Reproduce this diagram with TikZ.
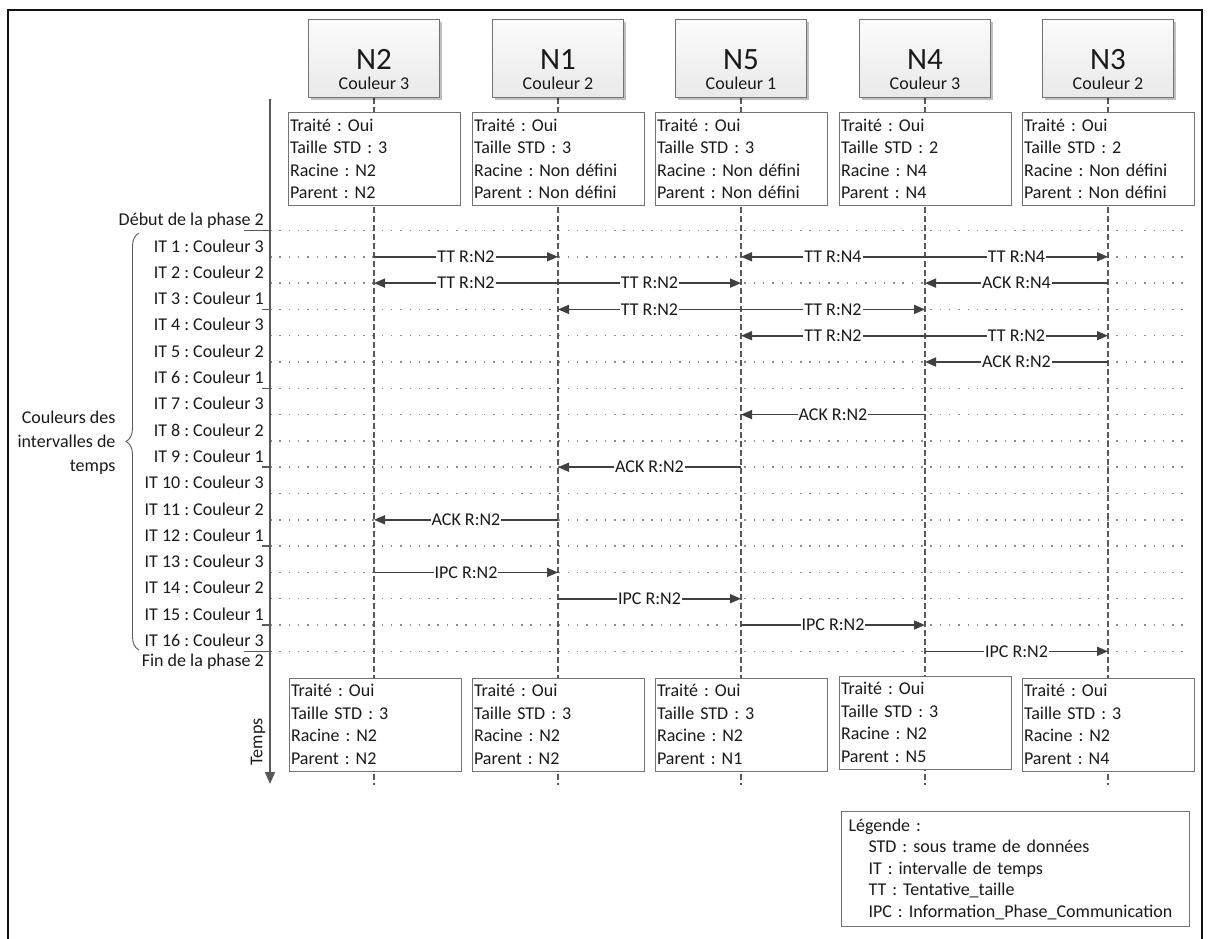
\documentclass[tikz,border=0pt]{standalone}
\usepackage{fontspec}
\setmainfont{Carlito}
\usetikzlibrary{arrows.meta,decorations.pathreplacing,shadows,backgrounds}
\definecolor{cadreNoir}{HTML}{111111}
\definecolor{traitGris}{HTML}{595959}
\definecolor{flecheGris}{HTML}{404040}
\definecolor{pointGris}{HTML}{8C8C8C}
\definecolor{boiteGris}{HTML}{737373}
\definecolor{texteGris}{HTML}{1A1A1A}
\definecolor{enteteHaut}{HTML}{FBFBFB}
\definecolor{enteteBas}{HTML}{E9E9E9}
\frenchspacing

\begin{document}
\begin{tikzpicture}[x=1pt, y=-1pt,
    every node/.style={text=texteGris},
    font=\fontsize{18}{22.5}\selectfont,
    entete/.style={draw=boiteGris, line width=1pt, top color=enteteHaut, bottom color=enteteBas,
        minimum width=131pt, minimum height=78pt, inner sep=0pt,
        drop shadow={shadow xshift=2pt, shadow yshift=-2pt, opacity=0.25, fill=black}},
    nomnoeud/.style={anchor=base, inner sep=0pt, font=\fontsize{31}{31}\selectfont},
    couleur/.style={anchor=base, inner sep=0pt},
    etat/.style={draw=boiteGris, line width=1pt, fill=white, minimum width=172pt, minimum height=93pt,
        text width=168pt, inner xsep=2pt, inner ysep=0pt, align=left},
    vie/.style={traitGris, line width=1.3pt, dash pattern=on 6pt off 3pt},
    rangee/.style={pointGris, line width=1.5pt, dash pattern=on 1.5pt off 7.8pt},
    msg/.style={flecheGris, line width=1.6pt, -{Triangle[length=11pt, width=9pt]}},
    lbl/.style={fill=white, inner sep=1pt},
    itlbl/.style={anchor=base east, inner sep=0pt},
    repere/.style={traitGris, line width=1.5pt},
    axe/.style={traitGris, line width=1.8pt, -{Triangle[length=12pt, width=10pt]}},
    accolade/.style={traitGris, line width=0.9pt, decorate, decoration={brace, amplitude=13pt}},
    legende/.style={draw=boiteGris, line width=1pt, text width=334pt, inner xsep=7pt, inner ysep=7pt,
        align=left, font=\fontsize{18}{21.5}\selectfont},
    cadre/.style={cadreNoir, line width=2.5pt}]
    \useasboundingbox (0,0) rectangle (1210,939);
    \draw[cadre] (8,950) -- (8,10) -- (1202,10) -- (1202,950);

    \node[entete] (N2) at (374,59) {};
    \node[nomnoeud] (N2n) at ([yshift=-11pt]N2.center) {N2};
    \node[couleur] (N2c) at ([yshift=-31pt]N2.center) {Couleur 3};
    \node[entete] (N1) at (558,59) {};
    \node[nomnoeud] (N1n) at ([yshift=-11pt]N1.center) {N1};
    \node[couleur] (N1c) at ([yshift=-31pt]N1.center) {Couleur 2};
    \node[entete] (N5) at (741,59) {};
    \node[nomnoeud] (N5n) at ([yshift=-11pt]N5.center) {N5};
    \node[couleur] (N5c) at ([yshift=-31pt]N5.center) {Couleur 1};
    \node[entete] (N4) at (925,59) {};
    \node[nomnoeud] (N4n) at ([yshift=-11pt]N4.center) {N4};
    \node[couleur] (N4c) at ([yshift=-31pt]N4.center) {Couleur 3};
    \node[entete] (N3) at (1108,59) {};
    \node[nomnoeud] (N3n) at ([yshift=-11pt]N3.center) {N3};
    \node[couleur] (N3c) at ([yshift=-31pt]N3.center) {Couleur 2};

    \node[etat] (e2h) at (374,159) {Traité : Oui\\Taille STD : 3\\Racine : N2\\Parent : N2};
    \node[etat] (e1h) at (558,159) {Traité : Oui\\Taille STD : 3\\Racine : Non défini\\Parent : Non défini};
    \node[etat] (e5h) at (741,159) {Traité : Oui\\Taille STD : 3\\Racine : Non défini\\Parent : Non défini};
    \node[etat] (e4h) at (925,159) {Traité : Oui\\Taille STD : 2\\Racine : N4\\Parent : N4};
    \node[etat] (e3h) at (1108,159) {Traité : Oui\\Taille STD : 2\\Racine : Non défini\\Parent : Non défini};

    \node[etat] (e2b) at (375,724.5) {Traité : Oui\\Taille STD : 3\\Racine : N2\\Parent : N2};
    \node[etat] (e1b) at (558,724.5) {Traité : Oui\\Taille STD : 3\\Racine : N2\\Parent : N2};
    \node[etat] (e5b) at (741,724.5) {Traité : Oui\\Taille STD : 3\\Racine : N2\\Parent : N1};
    \node[etat] (e4b) at (925,722.5) {Traité : Oui\\Taille STD : 3\\Racine : N2\\Parent : N5};
    \node[etat] (e3b) at (1108,724.5) {Traité : Oui\\Taille STD : 3\\Racine : N2\\Parent : N4};

    \coordinate (bas) at (0,785);
    \begin{pgfonlayer}{background}
        \foreach \k/\y in {0/230.5, 1/256.8, 2/283.1, 3/309.4, 4/335.7, 5/362.0, 6/388.3, 7/414.6, 8/440.9,
            9/467.2, 10/493.5, 11/519.8, 12/546.1, 13/572.4, 14/598.7, 15/625.0, 16/651.3} {
            \coordinate (r\k) at (270,\y);
            \draw[rangee] (r\k) -- ++(920,0);
        }
        \draw[vie] (N2.south) -- (N2 |- bas);
        \draw[vie] (N1.south) -- (N1 |- bas);
        \draw[vie] (N5.south) -- (N5 |- bas);
        \draw[vie] (N4.south) -- (N4 |- bas);
        \draw[vie] (N3.south) -- (N3 |- bas);
    \end{pgfonlayer}

    \node[itlbl] (deb) at ([xshift=-6pt, yshift=5pt]r0) {Début de la phase 2};
    \foreach \k/\c/\p in {1/3/0, 2/2/1, 3/1/2, 4/3/3, 5/2/4, 6/1/5, 7/3/6, 8/2/7,
        9/1/8, 10/3/9, 11/2/10, 12/1/11, 13/3/12, 14/2/13, 15/1/14, 16/3/15} {
        \node[itlbl] (it\k) at ([xshift=-6pt, yshift=-21.5pt]r\p) {IT \k{} : Couleur \c};
    }
    \node[itlbl] (fin) at ([xshift=-6pt, yshift=-15pt]r16) {Fin de la phase 2};

    \draw[repere] (r0) -- ++(-26,0);
    \draw[repere] (r3) -- ++(-8,0);
    \draw[repere] (r6) -- ++(-8,0);
    \draw[repere] (r9) -- ++(-8,0);
    \draw[repere] (r12) -- ++(-8,0);
    \draw[repere] (r15) -- ++(-8,0);
    \draw[repere] (r16) -- ++(-26,0);

    \coordinate (axeh) at (270,99);
    \coordinate (axeb) at (270,784);
    \draw[axe] (axeh) -- (axeb);
    \node[rotate=90] (temps) at (258,742) {Temps};

    \coordinate (acch) at (139,233);
    \coordinate (accb) at (139,650);
    \draw[accolade] (accb) -- (acch);
    \node[align=right, anchor=east, font=\fontsize{18}{24}\selectfont] (coul) at (119,443) {Couleurs des\\intervalles de\\temps};

    \draw[msg] (N2 |- r1) -- node[lbl] {TT R:N2} (N1 |- r1);
    \draw[msg] (N4 |- r1) -- node[lbl] {TT R:N4} (N5 |- r1);
    \draw[msg] (N4 |- r1) -- node[lbl] {TT R:N4} (N3 |- r1);
    \draw[msg] (N1 |- r2) -- node[lbl] {TT R:N2} (N2 |- r2);
    \draw[msg] (N1 |- r2) -- node[lbl] {TT R:N2} (N5 |- r2);
    \draw[msg] (N3 |- r2) -- node[lbl] {ACK R:N4} (N4 |- r2);
    \draw[msg] (N5 |- r3) -- node[lbl] {TT R:N2} (N1 |- r3);
    \draw[msg] (N5 |- r3) -- node[lbl] {TT R:N2} (N4 |- r3);
    \draw[msg] (N4 |- r4) -- node[lbl] {TT R:N2} (N5 |- r4);
    \draw[msg] (N4 |- r4) -- node[lbl] {TT R:N2} (N3 |- r4);
    \draw[msg] (N3 |- r5) -- node[lbl] {ACK R:N2} (N4 |- r5);
    \draw[msg] (N4 |- r7) -- node[lbl] {ACK R:N2} (N5 |- r7);
    \draw[msg] (N5 |- r9) -- node[lbl] {ACK R:N2} (N1 |- r9);
    \draw[msg] (N1 |- r11) -- node[lbl] {ACK R:N2} (N2 |- r11);
    \draw[msg] (N2 |- r13) -- node[lbl] {IPC R:N2} (N1 |- r13);
    \draw[msg] (N1 |- r14) -- node[lbl] {IPC R:N2} (N5 |- r14);
    \draw[msg] (N5 |- r15) -- node[lbl] {IPC R:N2} (N4 |- r15);
    \draw[msg] (N4 |- r16) -- node[lbl] {IPC R:N2} (N3 |- r16);

    \node[legende, anchor=north west] (leg) at (841,811) {Légende :\\
        \hspace*{20pt}STD : sous trame de données\\
        \hspace*{20pt}IT : intervalle de temps\\
        \hspace*{20pt}TT : Tentative\_taille\\
        \hspace*{20pt}IPC : Information\_Phase\_Communication};
\end{tikzpicture}
\end{document}
